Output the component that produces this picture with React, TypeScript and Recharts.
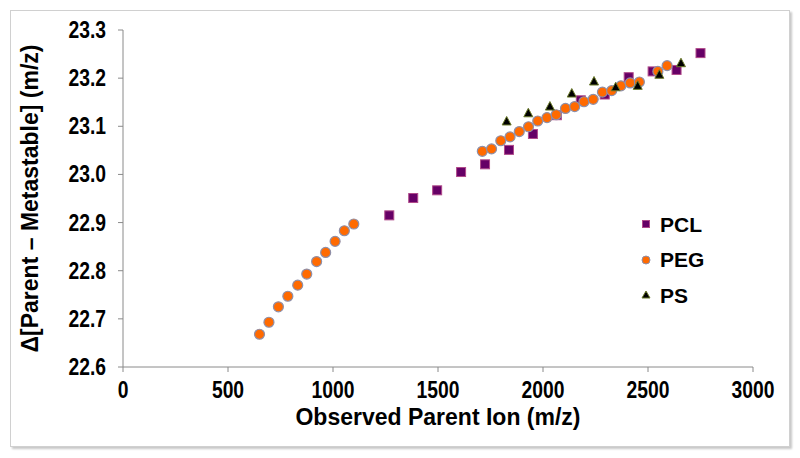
import React from "react";
import { ScatterChart, Scatter, XAxis, YAxis } from "recharts";

const pclX = [1268, 1382, 1496, 1610, 1724, 1838, 1952, 2066, 2180, 2294, 2408, 2522, 2636, 2750];
const pclY = [22.915, 22.951, 22.967, 23.005, 23.021, 23.051, 23.084, 23.123, 23.154, 23.166, 23.202, 23.214, 23.217, 23.252];

const pegX = [650, 695, 740, 785, 832, 875, 922, 965, 1010, 1054, 1099,
  1711, 1755, 1799, 1843, 1887, 1931, 1975, 2019, 2063, 2107, 2151, 2195, 2239, 2283, 2327, 2371, 2415, 2459, 2547, 2591];
const pegY = [22.668, 22.693, 22.725, 22.747, 22.770, 22.793, 22.819, 22.838, 22.861, 22.883, 22.897,
  23.048, 23.053, 23.070, 23.078, 23.089, 23.099, 23.111, 23.118, 23.124, 23.137, 23.141, 23.151, 23.156, 23.171, 23.174, 23.184, 23.190, 23.192, 23.214, 23.226];

const psX = [1827, 1930, 2033, 2137, 2243, 2346, 2451, 2554, 2657];
const psY = [23.110, 23.127, 23.141, 23.168, 23.193, 23.181, 23.184, 23.207, 23.231];

const xTicks = [0, 500, 1000, 1500, 2000, 2500, 3000];
const yTicks = [22.6, 22.7, 22.8, 22.9, 23.0, 23.1, 23.2, 23.3];

const seriesNames = ["PCL", "PEG", "PS"];

const pclData = pclX.map((x, i) => ({ x, y: pclY[i] }));
const pegData = pegX.map((x, i) => ({ x, y: pegY[i] }));
const psData = psX.map((x, i) => ({ x, y: psY[i] }));

const FONT = "'Liberation Sans', Arial, sans-serif";
const AXIS = "#8a8a8a";

const SquareShape = (p: any) => (
  <rect x={p.cx - 4.5} y={p.cy - 4.5} width={9} height={9} fill="#660066" stroke="#b04a8a" strokeWidth={1} />
);
const CircleShape = (p: any) => (
  <circle cx={p.cx} cy={p.cy} r={5} fill="#ff6a00" stroke="#8f8fa8" strokeWidth={1.2} />
);
const TriShape = (p: any) => (
  <path d={`M${p.cx},${p.cy - 5} L${p.cx + 4.5},${p.cy + 3.5} L${p.cx - 4.5},${p.cy + 3.5} Z`} fill="#000" stroke="#6b7a2a" strokeWidth={1} />
);

const XTick = (p: any) => (
  <g transform={`translate(${p.x},${p.y})`}>
    <text transform="scale(0.84,1)" textAnchor="middle" dy={24} fontFamily={FONT} fontWeight="bold" fontSize={23} fill="#000">
      {p.payload.value}
    </text>
  </g>
);
const YTick = (p: any) => (
  <g transform={`translate(${p.x - 10},${p.y})`}>
    <text transform="scale(0.84,1)" textAnchor="end" dy={8} fontFamily={FONT} fontWeight="bold" fontSize={23} fill="#000">
      {Number(p.payload.value).toFixed(1)}
    </text>
  </g>
);

const LegendBox = () => (
  <svg width={120} height={110} style={{ position: "absolute", left: 640, top: 203, overflow: "visible" }}>
    <rect x={2.5} y={17.5} width={7} height={7} fill="#660066" stroke="#b04a8a" />
    <text x={20} y={29} fontFamily={FONT} fontWeight="bold" fontSize={21}>{seriesNames[0]}</text>
    <circle cx={6} cy={57} r={4} fill="#ff6a00" stroke="#8f8fa8" />
    <text x={20} y={64} fontFamily={FONT} fontWeight="bold" fontSize={21}>{seriesNames[1]}</text>
    <path d="M6,88 L10,95 L2,95 Z" fill="#000" stroke="#6b7a2a" />
    <text x={20} y={100} fontFamily={FONT} fontWeight="bold" fontSize={21}>{seriesNames[2]}</text>
  </svg>
);

export default function App() {
  return (
    <div style={{ position: "absolute", left: 0, top: 0, width: 800, height: 458, background: "#fff" }}>
      <div style={{ position: "absolute", left: 10, top: 10, width: 778, height: 435, border: "1px solid #d0d0d0", boxShadow: "2px 2px 2px #c8c8c8" }} />
      <div style={{ position: "absolute", left: 0, top: 0 }}>
        <ScatterChart width={800} height={458} margin={{ top: 30, right: 47, bottom: 31, left: 0 }}>
          <XAxis
            type="number"
            dataKey="x"
            domain={[0, 3000]}
            ticks={xTicks}
            height={60}
            stroke={AXIS}
            tickSize={5}
            tick={<XTick />}
            label={{ value: "Observed Parent Ion (m/z)", position: "insideBottom", offset: 0, dy: -2, style: { fontFamily: FONT, fontWeight: "bold", fontSize: 23, fill: "#000" } } as any}
          />
          <YAxis
            type="number"
            dataKey="y"
            domain={[22.6, 23.3]}
            ticks={yTicks}
            width={123}
            stroke={AXIS}
            tickSize={5}
            tick={<YTick />}
            label={{ value: "Δ[Parent – Metastable] (m/z)", angle: -90, position: "insideLeft", offset: 0, dx: 30, style: { fontFamily: FONT, fontWeight: "bold", fontSize: 23, fill: "#000", textAnchor: "middle" } } as any}
          />
          <Scatter name={seriesNames[0]} data={pclData} shape={<SquareShape />} isAnimationActive={false} />
          <Scatter name={seriesNames[1]} data={pegData} shape={<CircleShape />} isAnimationActive={false} />
          <Scatter name={seriesNames[2]} data={psData} shape={<TriShape />} isAnimationActive={false} />
        </ScatterChart>
      </div>
      <LegendBox />
    </div>
  );
}
